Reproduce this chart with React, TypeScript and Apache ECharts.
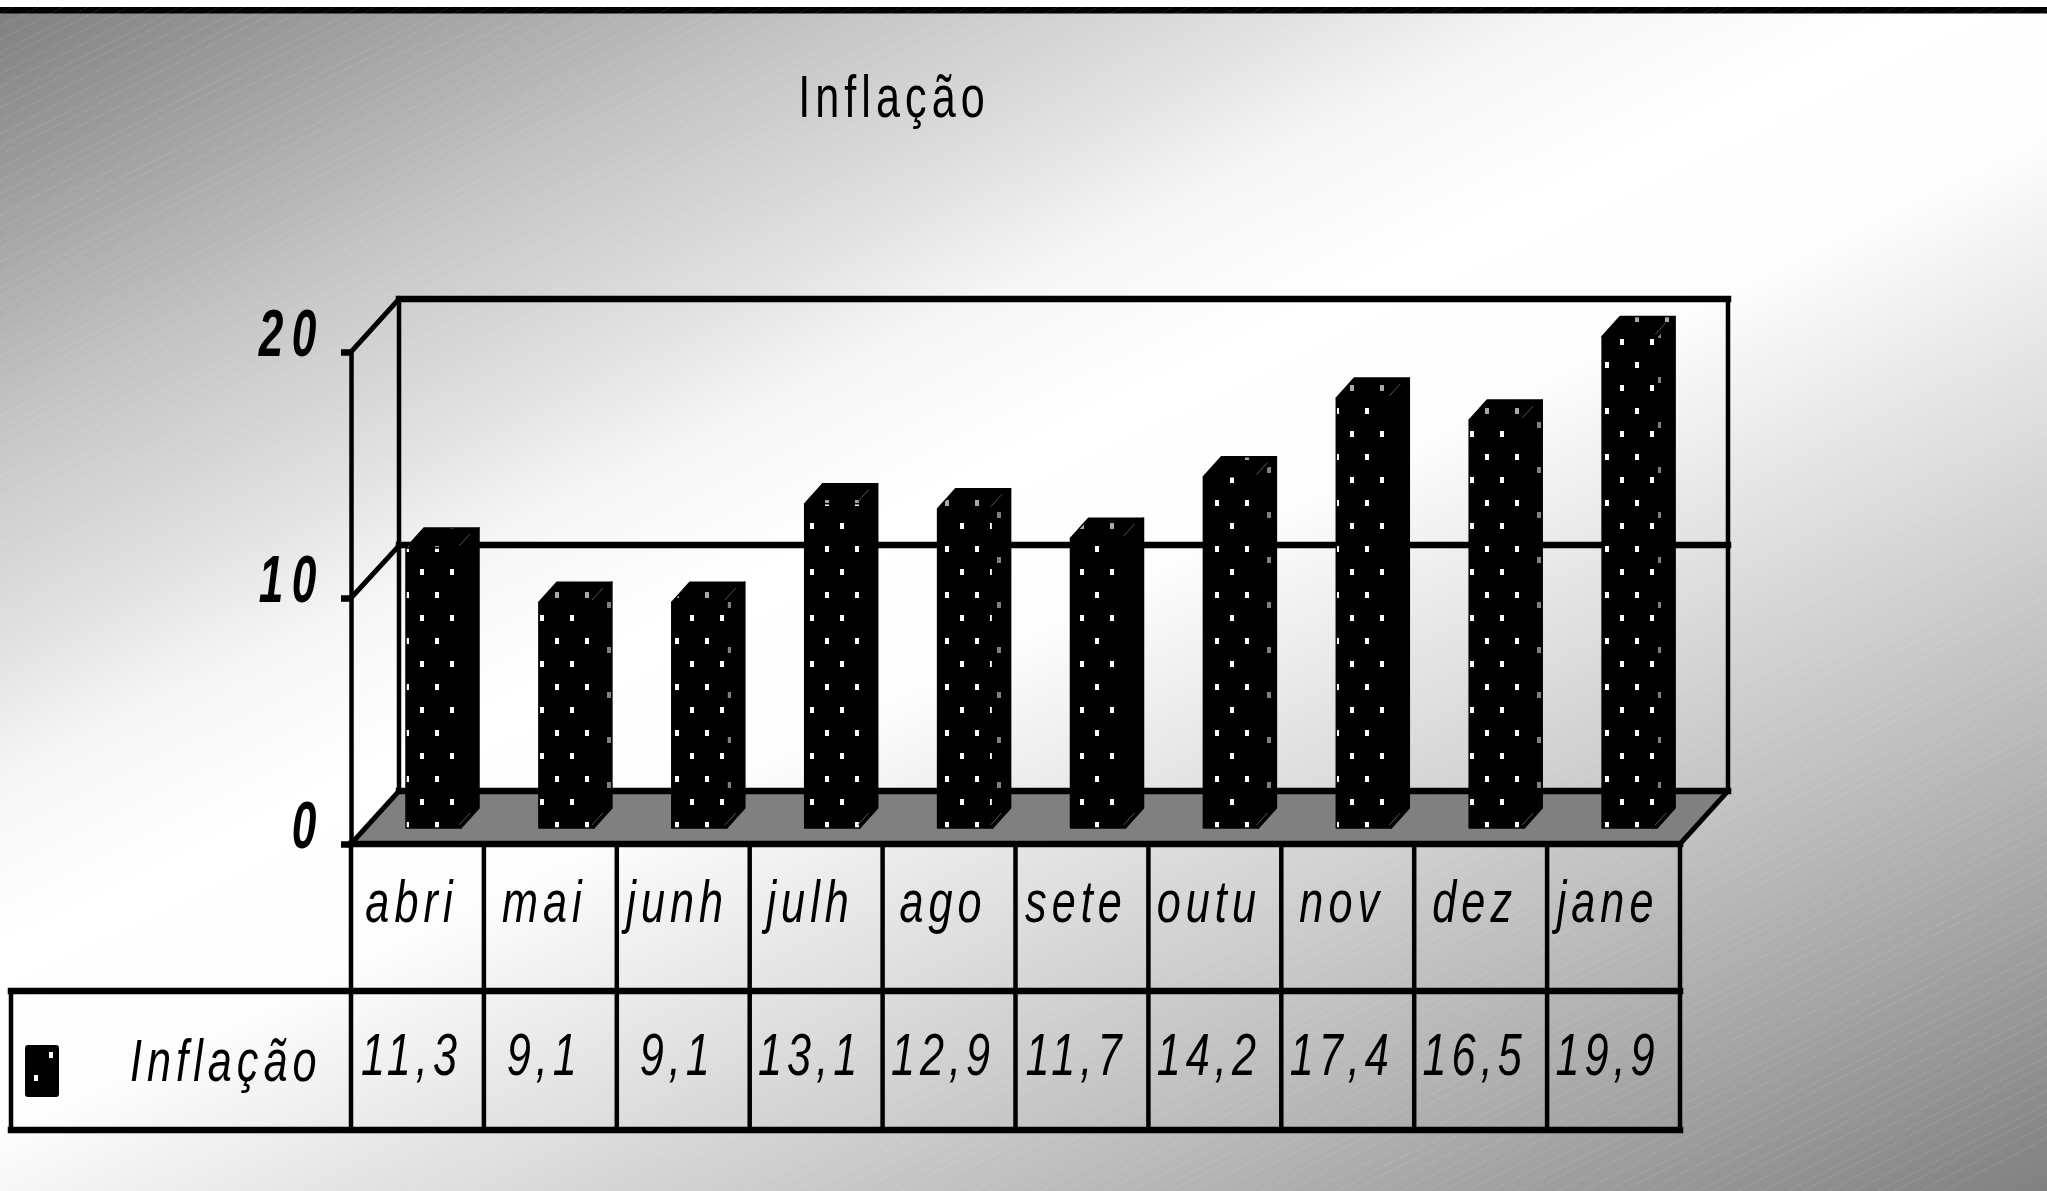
import React, { useEffect, useRef } from "react";
import * as echarts from "echarts";

const titleText = "Inflação";
const seriesName = "Inflação";
const months = ["abri", "mai", "junh", "julh", "ago", "sete", "outu", "nov", "dez", "jane"];
const inflation = [11.3, 9.1, 9.1, 13.1, 12.9, 11.7, 14.2, 17.4, 16.5, 19.9];
const valueLabels = ["11,3", "9,1", "9,1", "13,1", "12,9", "11,7", "14,2", "17,4", "16,5", "19,9"];
const yTicks = [0, 10, 20];

const FONT = "'Liberation Sans', Arial, sans-serif";
const WIDTH = 2047;
const HEIGHT = 1191;
const WALL_DX = 48;
const WALL_DY = 53;
const H_LINE = 6.5;
const V_LINE = 4.5;
// Horizontal squeeze that turns the regular face into a condensed one.
const SQUEEZE = 0.72;
const DIGIT_SQUEEZE = 0.66;
// Distance from the central baseline to the alphabetic one at 60px.
const BASELINE_DROP = 21;

// Repeating dot tile for the bar faces.
function dotTile(w: number, h: number, colour: string, dots: number[][]) {
  const c = document.createElement("canvas");
  c.width = w;
  c.height = h;
  const g = c.getContext("2d")!;
  g.fillStyle = "#000";
  g.fillRect(0, 0, w, h);
  g.fillStyle = colour;
  dots.forEach(([x, y]) => g.fillRect(x, y, 4, 6));
  return c;
}

// Condensed text element: the squeeze lives on the element's transform.
function condensed(text: string, x: number, y: number, font: string, align: string, squeeze = SQUEEZE) {
  return {
    type: "text",
    x,
    y,
    scaleX: squeeze,
    style: { text, x: 0, y: 0, fill: "#000", font, textAlign: align, textVerticalAlign: "middle", verticalAlign: "middle" },
  };
}

function App() {
  const ref = useRef<HTMLDivElement>(null);

  useEffect(() => {
    document.body.style.margin = "0";
    const chart = echarts.init(ref.current!, undefined, { renderer: "svg" });

    const frontFill = { image: dotTile(30, 46, "#fff", [[0, 17], [15, 40]]), repeat: "repeat" };
    const sideFill = { image: dotTile(30, 45, "#808080", [[7, 17]]), repeat: "repeat" };
    const topFill = { image: dotTile(30, 46, "#a8a8a8", [[0, 17], [15, 40]]), repeat: "repeat" };

    // Faint dotted banding running across the backdrop.
    const bandSteps = [13, 13, 13, 8];
    const stripes: any[] = [];
    for (let y0 = 14, k = 0; y0 < HEIGHT + WIDTH * 0.5; y0 += bandSteps[k++ % 4]) {
      stripes.push({
        type: "line",
        shape: { x1: 0, y1: y0, x2: WIDTH, y2: y0 - WIDTH * 0.52 },
        style: { stroke: "rgba(255,255,255,0.2)", lineWidth: 1, lineDash: [1, 1] },
        silent: true,
      });
    }

    const line = (x1: number, y1: number, x2: number, y2: number, w: number) => ({
      type: "line",
      shape: { x1, y1, x2, y2 },
      style: { stroke: "#000", lineWidth: w, lineCap: "square" },
    });

    // Floor and back walls of the 3D box, placed from the axis scale.
    const renderBox = (params: any, api: any) => {
      const cs = params.coordSys;
      const y0 = api.coord([0, 0])[1];
      const y10 = api.coord([0, 10])[1];
      const y20 = api.coord([0, 20])[1];
      const xl = cs.x;
      const xr = cs.x + cs.width;
      const floor = [[xl, y0], [xl + WALL_DX, y0 - WALL_DY], [xr + WALL_DX, y0 - WALL_DY], [xr, y0]];
      return {
        type: "group",
        children: [
          { type: "polygon", shape: { points: floor }, style: { fill: "#808080" } },
          line(xl, y0, xl + WALL_DX, y0 - WALL_DY, 5),
          line(xr, y0, xr + WALL_DX, y0 - WALL_DY, 5),
          line(xl + WALL_DX, y0 - WALL_DY, xr + WALL_DX, y0 - WALL_DY, H_LINE),
          line(xl + WALL_DX, y10 - WALL_DY, xr + WALL_DX, y10 - WALL_DY, H_LINE),
          line(xl + WALL_DX, y20 - WALL_DY, xr + WALL_DX, y20 - WALL_DY, H_LINE),
          line(xl + WALL_DX, y20 - WALL_DY, xl + WALL_DX, y0 - WALL_DY, V_LINE),
          line(xr + WALL_DX, y20 - WALL_DY, xr + WALL_DX, y0 - WALL_DY, V_LINE),
          line(xl, y20, xl + WALL_DX, y20 - WALL_DY, 5),
          line(xl, y10, xl + WALL_DX - 3, y10 - WALL_DY + 4, 5),
        ],
      };
    };

    // One 3D column: front, side and top faces.
    const renderBar = (_params: any, api: any) => {
      const [cx, yTop] = api.coord([api.value(0), api.value(1)]);
      const [, yBase] = api.coord([api.value(0), 0]);
      const band = api.size([1, 0])[0];
      const left = cx - band / 2 + 55;
      const w = 55;
      const dx = 18;
      const dy = 20;
      const top = yTop - 18;
      const bottom = yBase - 16;
      const r = left + w;
      const edge = { stroke: "#000", lineWidth: 1.5, lineJoin: "round" };
      return {
        type: "group",
        children: [
          {
            type: "polygon",
            shape: { points: [[r, top], [r + dx, top - dy], [r + dx, bottom - dy], [r, bottom]] },
            style: { fill: sideFill, ...edge },
          },
          {
            type: "polygon",
            shape: { points: [[left, top], [left + dx, top - dy], [r + dx, top - dy], [r, top]] },
            style: { fill: topFill, ...edge },
          },
          {
            type: "rect",
            shape: { x: left, y: top, width: w, height: bottom - top },
            style: { fill: frontFill, ...edge },
          },
          {
            type: "line",
            shape: { x1: r - 2, y1: top - 2, x2: r + 9, y2: top - 14 },
            style: { stroke: "#555", lineWidth: 1 },
          },
          {
            type: "line",
            shape: { x1: r - 2, y1: bottom - 3, x2: r + 9, y2: bottom - 15 },
            style: { stroke: "#555", lineWidth: 1 },
          },
        ],
      };
    };

    // Rules of the data table below the plot.
    const renderTable = (params: any, api: any) => {
      const cs = params.coordSys;
      const xl = cs.x;
      const xr = cs.x + cs.width;
      const y0 = api.coord([0, 0])[1];
      const rowA = y0 + 147;
      const rowB = y0 + 286;
      const legendLeft = 11;
      const band = cs.width / months.length;
      const children: any[] = [
        line(xl, y0, xr, y0, H_LINE),
        line(legendLeft, rowA, xr, rowA, H_LINE),
        line(legendLeft, rowB, xr, rowB, H_LINE),
        line(legendLeft, rowA, legendLeft, rowB, V_LINE),
      ];
      for (let i = 0; i <= months.length; i++) {
        children.push(line(xl + band * i, y0, xl + band * i, rowB, V_LINE));
      }
      return { type: "group", children };
    };

    // Month and value cells of the table, one column per category.
    const renderCells = (_params: any, api: any) => {
      const i = api.value(0);
      const cx = api.coord([i, 0])[0];
      const y0 = api.coord([i, 0])[1];
      const font = `italic 60px ${FONT}`;
      return {
        type: "group",
        children: [
          condensed(months[i], cx - 6, y0 + 78 - BASELINE_DROP, font, "center"),
          condensed(valueLabels[i], cx - 6, y0 + 231 - BASELINE_DROP, font, "center"),
        ],
      };
    };

    // Value-axis numbers, lifted above their ticks.
    const renderYLabels = (params: any, api: any) => {
      const v = api.value(1);
      const y = api.coord([0, v])[1];
      return condensed(String(v), params.coordSys.x - 26, y - 19, `italic bold 67px ${FONT}`, "right", DIGIT_SQUEEZE);
    };

    chart.setOption({
      animation: false,
      backgroundColor: "transparent",
      grid: { left: 351, top: 352, width: 1329, height: 492, containLabel: false },
      xAxis: {
        type: "category",
        data: months,
        axisLine: { show: false },
        axisTick: { show: false },
        axisLabel: { show: false },
      },
      yAxis: {
        type: "value",
        min: 0,
        max: 20,
        interval: 10,
        splitLine: { show: false },
        axisLine: { show: true, lineStyle: { color: "#000", width: V_LINE } },
        axisTick: { show: true, length: 10, lineStyle: { color: "#000", width: H_LINE } },
        axisLabel: { show: false },
      },
      series: [
        {
          type: "custom",
          name: "box",
          z: 1,
          silent: true,
          data: [[0, 0]],
          encode: { x: 0, y: 1 },
          renderItem: renderBox,
        },
        {
          type: "custom",
          name: seriesName,
          z: 3,
          silent: true,
          data: inflation.map((v, i) => [i, v]),
          encode: { x: 0, y: 1 },
          renderItem: renderBar,
        },
        {
          type: "custom",
          name: "table",
          z: 4,
          silent: true,
          data: [[0, 0]],
          encode: { x: 0, y: 1 },
          renderItem: renderTable,
        },
        {
          type: "custom",
          name: "cells",
          z: 5,
          silent: true,
          data: months.map((_, i) => [i, 0]),
          encode: { x: 0, y: 1 },
          renderItem: renderCells,
        },
        {
          type: "custom",
          name: "ticks",
          z: 5,
          silent: true,
          data: yTicks.map((v) => [0, v]),
          encode: { x: 0, y: 1 },
          renderItem: renderYLabels,
        },
      ],
      graphic: {
        z: -1,
        elements: [
          {
            type: "rect",
            z: -10,
            silent: true,
            shape: { x: 0, y: 0, width: WIDTH, height: HEIGHT },
            style: {
              fill: new echarts.graphic.LinearGradient(592, -280, 1455, 1484, [
                { offset: 0, color: "#808080" },
                { offset: 0.195, color: "#c6c6c6" },
                { offset: 0.289, color: "#e0e0e0" },
                { offset: 0.353, color: "#f6f6f6" },
                { offset: 0.43, color: "#ffffff" },
                { offset: 0.516, color: "#fdfdfd" },
                { offset: 0.767, color: "#bebebe" },
                { offset: 1, color: "#808080" },
              ], true),
            },
          },
          { type: "group", z: -9, silent: true, children: stripes },
          { type: "rect", z: -8, silent: true, shape: { x: 0, y: 0, width: WIDTH, height: 7 }, style: { fill: "#fff" } },
          { type: "rect", z: -8, silent: true, shape: { x: 0, y: 7, width: WIDTH, height: 6.5 }, style: { fill: "#000" } },
          // Key swatch and series name in the table's first column.
          { type: "rect", silent: true, shape: { x: 25, y: 1045, width: 34, height: 52, r: 3 }, style: { fill: "#000" } },
          { type: "rect", silent: true, shape: { x: 49, y: 1052, width: 4, height: 6 }, style: { fill: "#fff" } },
          { type: "rect", silent: true, shape: { x: 34, y: 1075, width: 4, height: 6 }, style: { fill: "#fff" } },
          { silent: true, ...condensed(seriesName, 130, 1081 - BASELINE_DROP, `italic 60px ${FONT}`, "left") },
          { silent: true, ...condensed(titleText, 894, 117 - BASELINE_DROP, `60px ${FONT}`, "center") },
        ],
      },
    });

    return () => chart.dispose();
  }, []);

  return (
    <div className="inflacao-chart" style={{ width: WIDTH, height: HEIGHT, overflow: "hidden" }}>
      <style>{`
        .inflacao-chart svg text { letter-spacing: 7px; }
        .inflacao-chart svg text[style*="bold"] { letter-spacing: 13px; }
      `}</style>
      <div ref={ref} style={{ width: WIDTH, height: HEIGHT }} />
    </div>
  );
}

export default App;
